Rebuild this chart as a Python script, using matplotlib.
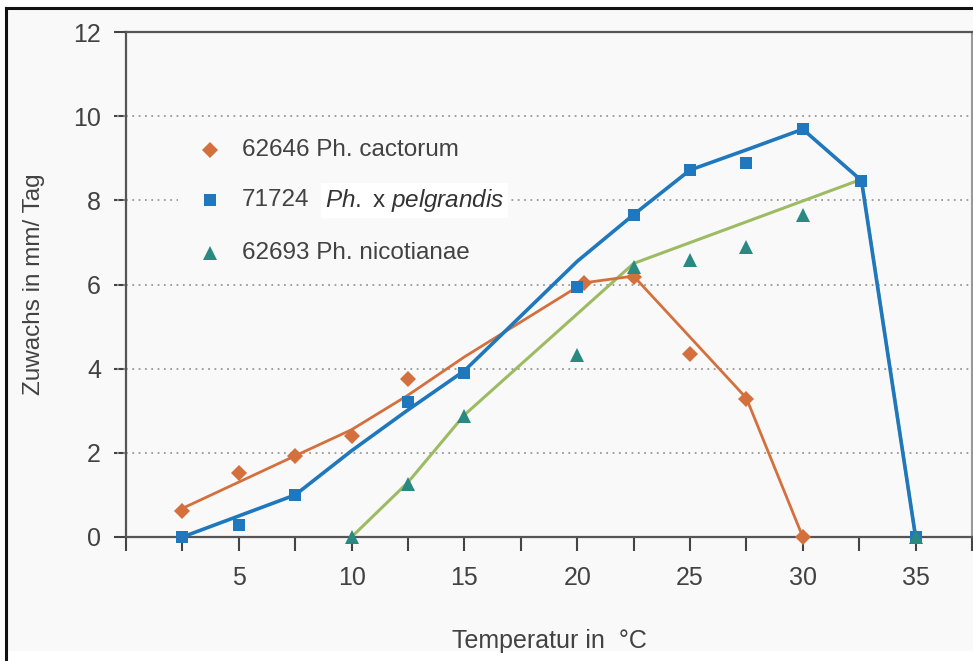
import matplotlib
matplotlib.use("Agg")
import matplotlib.pyplot as plt
from matplotlib.lines import Line2D
from matplotlib.patches import Rectangle

plt.rcParams['font.family'] = ['Liberation Sans', 'DejaVu Sans']
plt.rcParams['mathtext.fontset'] = 'custom'
plt.rcParams['mathtext.it'] = 'Liberation Sans:italic'
plt.rcParams['mathtext.rm'] = 'Liberation Sans'

# measured points
cact_x = [2.5, 5, 7.5, 10, 12.5, 20.3, 22.5, 25, 27.5, 30]
cact_y = [0.62, 1.53, 1.93, 2.4, 3.75, 6.04, 6.18, 4.34, 3.29, 0.0]
pelg_x = [2.5, 5, 7.5, 12.5, 15, 20, 22.5, 25, 27.5, 30, 32.6, 35]
pelg_y = [0.0, 0.29, 1.0, 3.21, 3.9, 5.95, 7.66, 8.72, 8.88, 9.69, 8.47, 0.0]
nico_x = [10, 12.5, 15, 20, 22.5, 25, 27.5, 30, 35]
nico_y = [0.0, 1.27, 2.88, 4.32, 6.42, 6.58, 6.9, 7.65, 0.0]

# fitted curves
cact_fit_x = [2.5, 7.5, 10, 12.5, 15, 20.3, 22.5, 27.5, 30]
cact_fit_y = [0.68, 1.93, 2.55, 3.37, 4.28, 6.04, 6.2, 3.3, 0.0]
pelg_fit_x = [2.5, 5, 7.5, 10, 12.5, 15, 20, 22.5, 25, 27.5, 30, 32.6, 35]
pelg_fit_y = [0.0, 0.5, 1.0, 2.05, 3.02, 3.95, 6.55, 7.66, 8.72, 9.2, 9.69, 8.47, 0.0]
nico_fit_x = [10, 12.5, 15, 22.5, 32.6, 35]
nico_fit_y = [0.0, 1.3, 2.9, 6.5, 8.5, 0.0]

labels = ['62646 Ph. cactorum', '71724', '62693 Ph. nicotianae']

bg = '#f9f9f9'
txt = '#424242'
orange = '#d4703e'
blue = '#1f78bd'
green_line = '#9dbb63'
teal = '#2a8a82'

fig = plt.figure(figsize=(9.73, 6.61), dpi=100)
fig.patch.set_facecolor('white')
fig.patches.append(Rectangle((6 / 973, 0.015), 1, 1 - 8 / 661 - 0.015, transform=fig.transFigure,
                             facecolor=bg, edgecolor='none', zorder=-5))
ax = fig.add_axes([126 / 973, 1 - 537 / 661, 846 / 973, 505 / 661])
ax.set_facecolor(bg)

ax.plot(nico_fit_x, nico_fit_y, color=green_line, lw=2.2, zorder=2)
ax.plot(cact_fit_x, cact_fit_y, color=orange, lw=2, zorder=3)
ax.plot(pelg_fit_x, pelg_fit_y, color=blue, lw=2.6, zorder=4)
ax.plot(cact_x, cact_y, 'D', color=orange, ms=8, mew=0, zorder=5, clip_on=False)
ax.plot(pelg_x, pelg_y, 's', color=blue, ms=8.5, mew=0, zorder=5, clip_on=False)
ax.plot(nico_x, nico_y, '^', color=teal, ms=10, mew=0, zorder=5, clip_on=False)

ax.set_xlim(0, 37.5)
ax.set_ylim(0, 12)
ax.set_xticks([2.5 * i for i in range(16)])
ax.set_xticklabels(['' if i % 2 or i == 0 else str(int(2.5 * i)) for i in range(16)])
ax.set_yticks(range(0, 13, 2))
ax.tick_params(axis='x', length=10, width=1.5, color='#444', pad=11, labelsize=18, labelcolor=txt)
ax.tick_params(axis='y', length=9, width=1.5, color='#444', pad=9, labelsize=18, labelcolor=txt)
for i in range(1, 6):
    ax.axhline(2 * i, color='#999', lw=1.3, ls=(0, (1, 2.5)), zorder=1)
    ax.plot([-9 / 846 * 37.5, 0], [2 * i, 2 * i], color='#999', lw=1.3, ls=(0, (1, 2.5)), clip_on=False)
for s in ['left', 'bottom', 'top']:
    ax.spines[s].set_color('#555')
    ax.spines[s].set_linewidth(1.6)
ax.spines['right'].set_color('#999')
ax.spines['right'].set_linewidth(1.5)

ax.set_xlabel('Temperatur in  °C', fontsize=18, color=txt, labelpad=28)
ax.set_ylabel('Zuwachs in mm/ Tag', fontsize=17.5, color=txt, labelpad=20)

# legend
ax.add_patch(Rectangle((0.0615, 0.53), 0.387, 0.276, transform=ax.transAxes,
                       facecolor=bg, edgecolor='none', zorder=1.5))
rows = [0.766, 0.667, 0.562]
for (m, c, ms), lab, yy in zip([('D', orange, 8), ('s', blue, 8), ('^', teal, 10)], labels, rows):
    ax.plot([0.0993], [yy], m, color=c, ms=ms, mew=0, transform=ax.transAxes, zorder=6)
    ax.text(0.137, yy, lab, transform=ax.transAxes, fontsize=17.5, color=txt, va='center', zorder=6)
ax.text(0.235, 0.667, r'$\mathit{Ph.}$ x $\mathit{pelgrandis}$', transform=ax.transAxes,
        fontsize=17.5, color='#333', va='center', zorder=6,
        bbox=dict(facecolor='white', edgecolor='none', pad=3))

# black frame left and top
fig.add_artist(Line2D([6 / 973, 6 / 973], [0, 1 - 8 / 661], transform=fig.transFigure, color='#111', lw=2.2))
fig.add_artist(Line2D([6 / 973, 1], [1 - 8 / 661, 1 - 8 / 661], transform=fig.transFigure, color='#111', lw=2.2))

fig.savefig('out.png', dpi=100, facecolor=fig.get_facecolor())
